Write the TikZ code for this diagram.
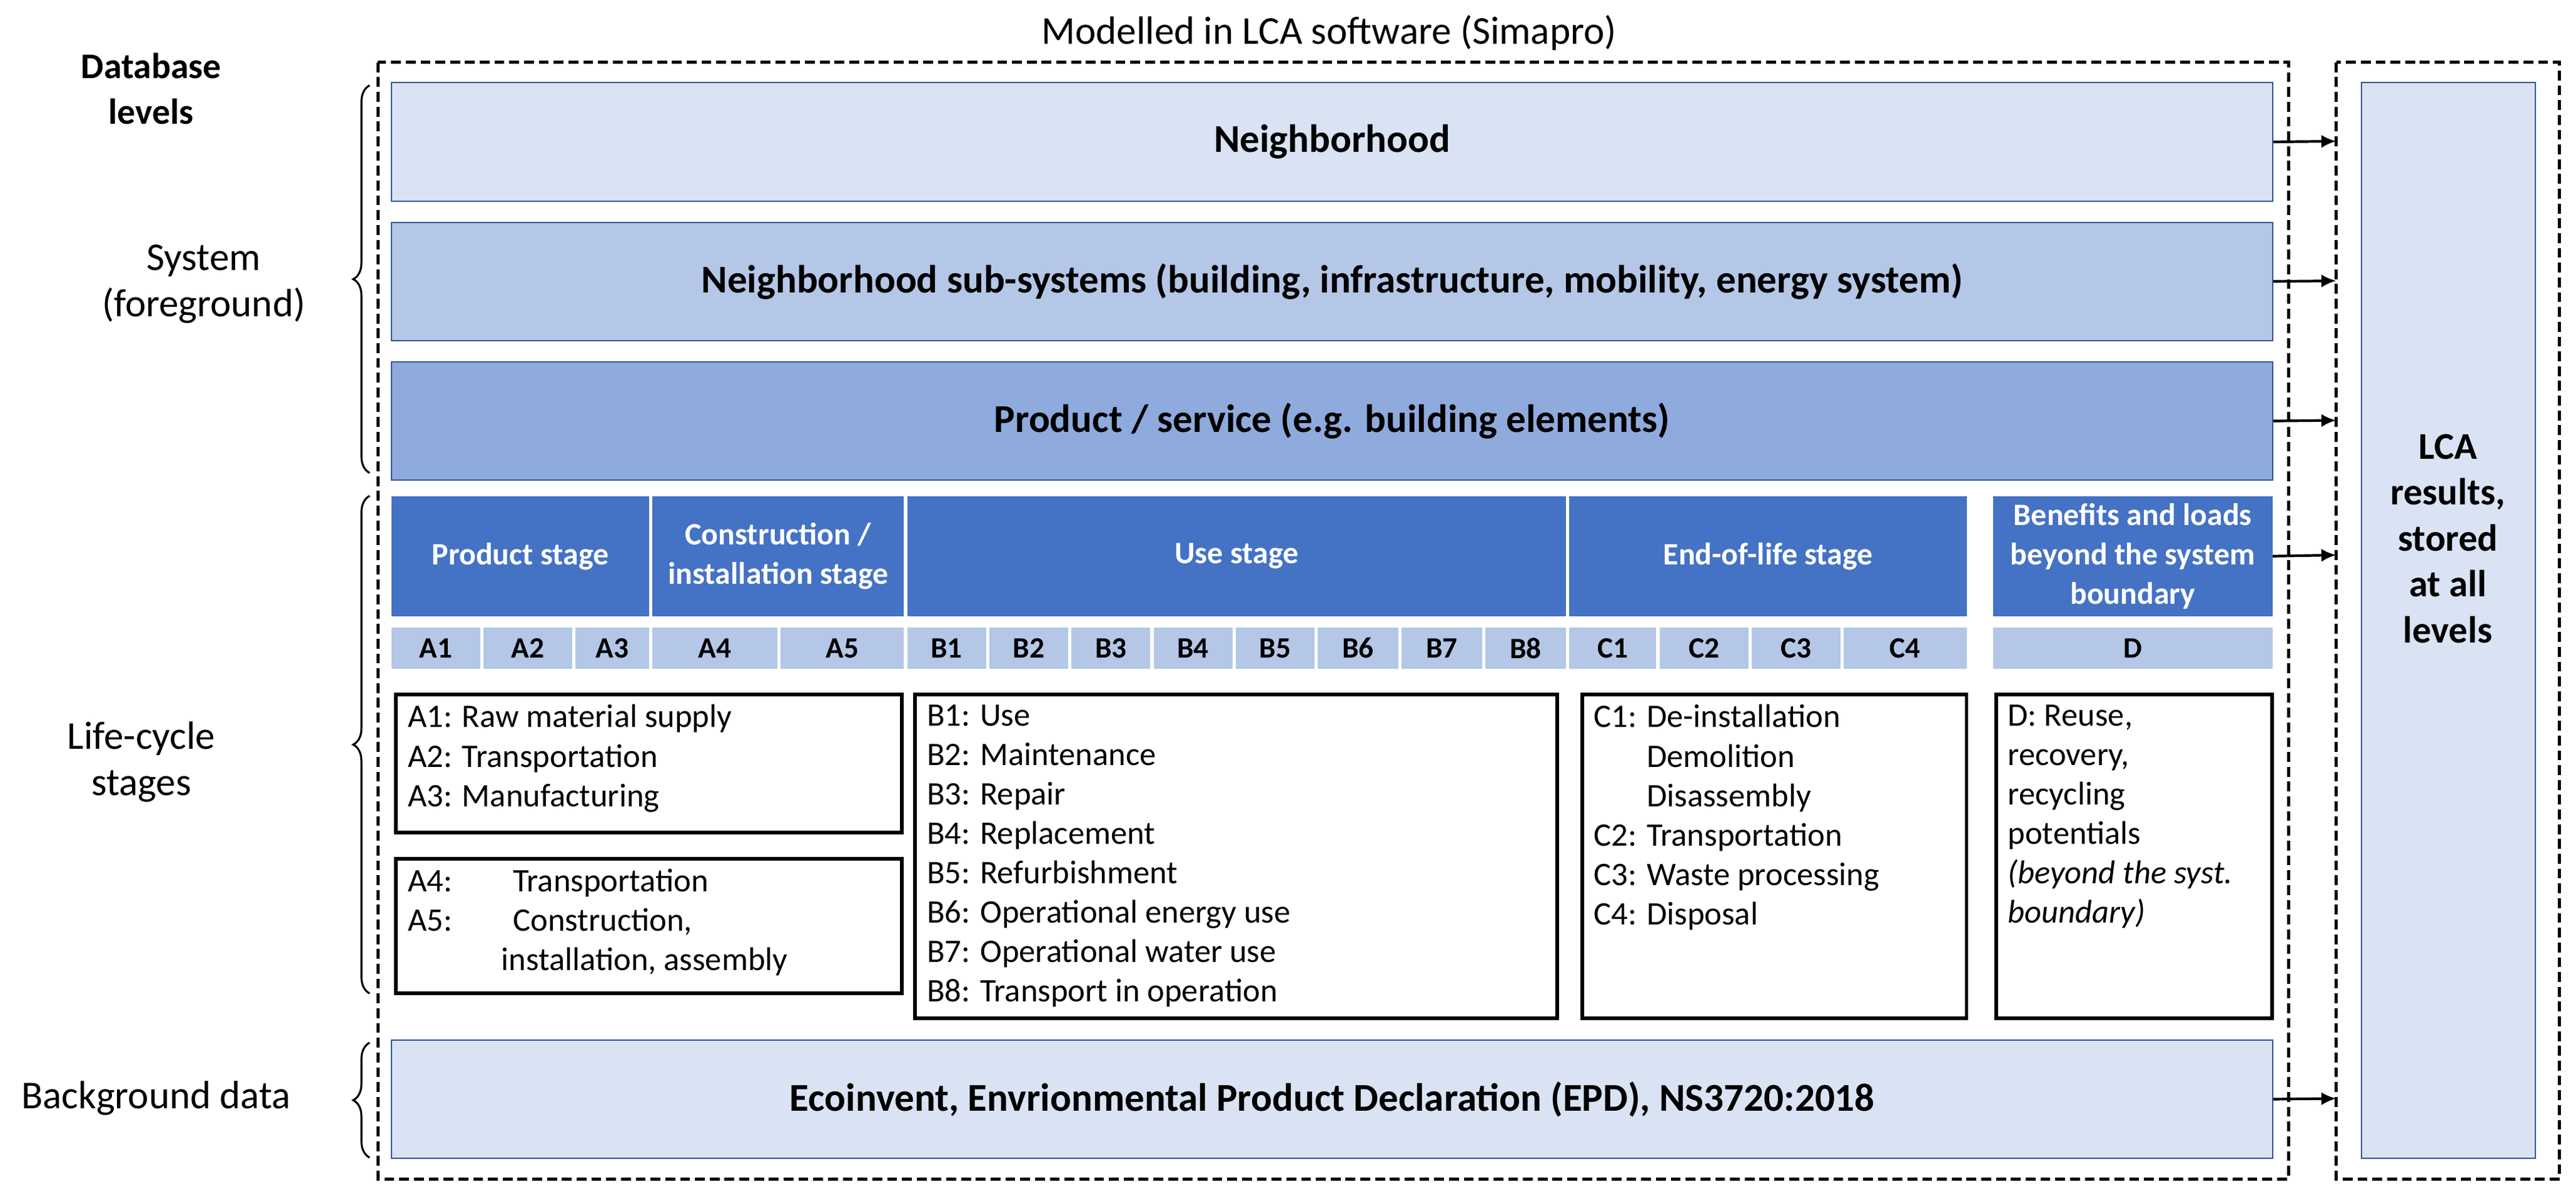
\documentclass[tikz,border=0pt]{standalone}
\usepackage{fontspec}
\setmainfont{Carlito}
\usetikzlibrary{decorations.pathreplacing,arrows.meta}
\definecolor{c1}{HTML}{DAE3F3}
\definecolor{c2}{HTML}{B4C7E7}
\definecolor{c3}{HTML}{8FAADC}
\definecolor{c4}{HTML}{4472C4}
\definecolor{bd}{HTML}{2F5597}
\begin{document}
\begin{tikzpicture}[x=1pt,y=-1pt,
 bar/.style={draw=bd,line width=0.8pt,font=\fontsize{24}{28}\selectfont\bfseries},
 hdr/.style={fill=c4,text=white,font=\fontsize{19}{24}\selectfont\bfseries,align=center},
 mod/.style={fill=c2,font=\fontsize{18}{20}\selectfont\bfseries},
 tbox/.style={draw=black,line width=2.2pt},
 txt/.style={anchor=north west,align=left,font=\fontsize{20}{24}\selectfont,inner sep=0pt},
 lab/.style={align=center,font=\fontsize{24}{28}\selectfont},
 arr/.style={-{Latex[length=9pt,width=8pt]},line width=1.6pt},
 brc/.style={decorate,decoration={brace,amplitude=10pt},line width=1.2pt}]
\useasboundingbox (0,0) rectangle (1568,732);
\node[font=\fontsize{24}{28}\selectfont] (title) at (809,20) {Modelled in LCA software (Simapro)};
\draw[dashed,line width=2pt,dash pattern=on 6pt off 3pt] (230,38) rectangle (1393,718);
\draw[dashed,line width=2pt,dash pattern=on 6pt off 3pt] (1422,38) rectangle (1558,718);
\node[draw=bd,fill=c1,line width=0.8pt,minimum width=106pt,minimum height=655pt,anchor=north west] (res) at (1437,50) {};
\node[align=center,font=\fontsize{23}{28}\selectfont\bfseries] (restxt) at (1490,328) {LCA\\results,\\stored\\at all\\levels};
\node[align=center,font=\fontsize{22}{28}\selectfont\bfseries] (dbl) at (92,54) {Database\\levels};
% bars
\node[bar,fill=c1,minimum width=1145pt,minimum height=72pt,anchor=north west] (nb) at (238,50) {Neighborhood};
\node[bar,fill=c2,minimum width=1145pt,minimum height=72pt,anchor=north west] (ns) at (238,135) {Neighborhood sub-systems (building, infrastructure, mobility, energy system)};
\node[bar,fill=c3,minimum width=1145pt,minimum height=72pt,anchor=north west] (ps) at (238,220) {Product / service (e.g. building elements)};
\node[bar,fill=c1,minimum width=1145pt,minimum height=72pt,anchor=north west] (bg) at (238,633) {Ecoinvent, Envrionmental Product Declaration (EPD), NS3720:2018};
% headers
\foreach \n/\a/\b/\t in {h1/238/395/Product stage, h2/397/550/{Construction /\\installation stage}, h3/552/953/Use stage, h4/955/1197/End-of-life stage, h5/1213/1383/{Benefits and loads\\beyond the system\\boundary}}{
 \node[hdr,minimum height=73pt,minimum width={\b-\a},inner sep=0pt,anchor=north west] (\n) at (\a,302) {\t};}
\foreach \n/\a/\b in {A1/238/292,A2/294/348,A3/350/395,A4/397/473,A5/475/550,B1/552/600,B2/602/650,B3/652/700,B4/702/750,B5/752/800,B6/802/851,B7/853/902,B8/904/953,C1/955/1008,C2/1010/1064,C3/1066/1120,C4/1122/1197,D/1213/1383}{
 \node[mod,minimum height=25pt,minimum width={\b-\a},inner sep=0pt,anchor=north west] (m\n) at (\a,382) {\n};}
% text boxes
\draw[tbox] (241,423) rectangle (549,507);
\node[txt] (t1) at (248,429) {A1: Raw material supply\\A2: Transportation\\A3: Manufacturing};
\draw[tbox] (241,523) rectangle (549,605);
\node[txt] (t2) at (248,529) {A4:\hspace{1.85em}Transportation\\A5:\hspace{1.85em}Construction,\\\hspace{2.85em}installation, assembly};
\draw[tbox] (557,423) rectangle (948,620);
\node[txt] (t3) at (564,429) {B1: Use\\B2: Maintenance\\B3: Repair\\B4: Replacement\\B5: Refurbishment\\B6: Operational energy use\\B7: Operational water use\\B8: Transport in operation};
\draw[tbox] (963,423) rectangle (1197,620);
\node[txt] (t4) at (970,429) {C1: De-installation\\\phantom{C1: }Demolition\\\phantom{C1: }Disassembly\\C2: Transportation\\C3: Waste processing\\C4: Disposal};
\draw[tbox] (1215,423) rectangle (1383,620);
\node[txt] (t5) at (1222,429) {D: Reuse,\\recovery,\\recycling\\potentials\\\textit{(beyond the syst.}\\\textit{boundary)}};
% arrows
\coordinate (e1) at (1422,86);\coordinate (e2) at (1422,171);\coordinate (e3) at (1422,256);\coordinate (e4) at (1422,338);\coordinate (e5) at (1422,669);
\draw[arr] (nb.east) -- (e1);
\draw[arr] (ns.east) -- (e2);
\draw[arr] (ps.east) -- (e3);
\draw[arr] (h5.east) -- (e4);
\draw[arr] (bg.east) -- (e5);
% braces
\draw[brc] (225,288) -- (225,52);
\draw[brc] (225,605) -- (225,302);
\draw[brc] (225,705) -- (225,635);
\node[lab] (l1) at (124,173) {System\\(foreground)};
\node[lab] (l2) at (86,464) {Life-cycle\\stages};
\node[lab] (l3) at (95,669) {Background data};
\end{tikzpicture}
\end{document}
